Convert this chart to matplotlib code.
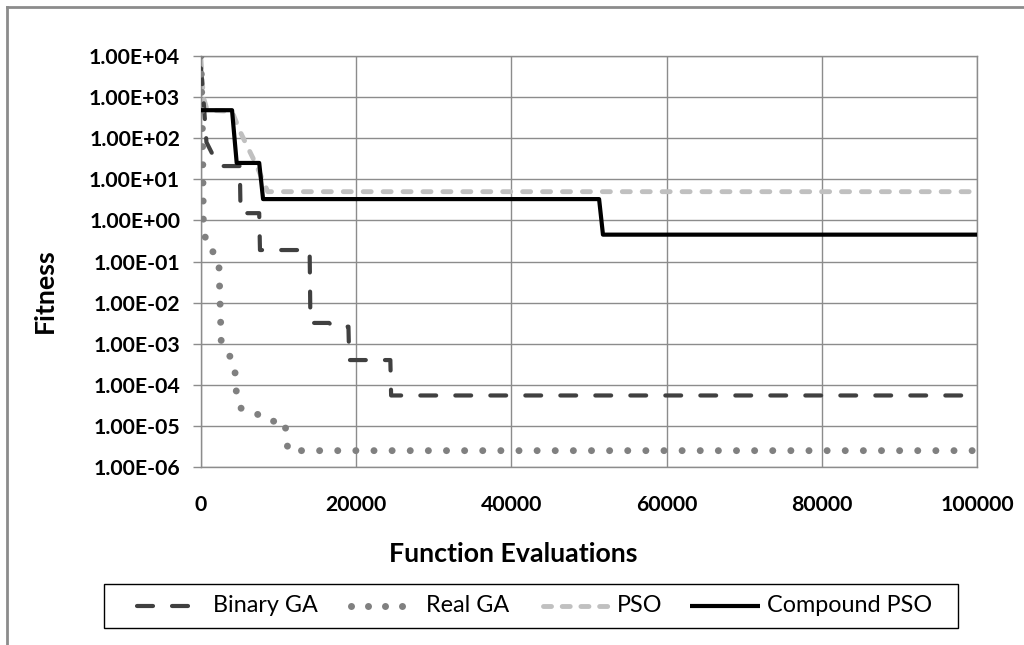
import matplotlib
matplotlib.use("Agg")
import matplotlib.pyplot as plt
from matplotlib.lines import Line2D
from matplotlib.patches import Rectangle

plt.rcParams['font.family'] = ['Lato', 'DejaVu Sans']

# ---- data ----
binary_x = [0, 300, 700, 1500, 2500, 3000, 5000, 5100, 6500, 7500, 7600, 14000, 14100,
            16500, 17000, 19000, 19100, 24400, 24500, 100000]
binary_y = [5000, 1000, 80, 40, 21, 21, 21, 1.5, 1.5, 1.5, 0.19, 0.19, 0.0032,
            0.0032, 0.0026, 0.0026, 0.0004, 0.0004, 5.5e-5, 5.5e-5]

real_x = [0, 200, 300, 700, 1800, 2300, 2600, 3400, 4300, 4600, 5200, 7000, 8500,
          10800, 11200, 100000]
real_y = [1e4, 100, 1, 0.22, 0.16, 0.1, 0.0012, 6e-4, 3.5e-4, 5e-5, 2.6e-5, 2.1e-5,
          1.3e-5, 1.3e-5, 2.5e-6, 2.5e-6]

pso_x = [0, 300, 800, 4000, 5000, 7000, 8600, 100000]
pso_y = [8000, 1000, 480, 450, 150, 25, 5, 5]

cpso_x = [0, 4000, 4600, 7500, 8000, 51300, 51800, 100000]
cpso_y = [480, 480, 25, 25, 3.3, 3.3, 0.45, 0.45]

series_names = ["Binary GA", "Real GA", "PSO", "Compound PSO"]
y_ticks = [1e4, 1e3, 1e2, 1e1, 1e0, 1e-1, 1e-2, 1e-3, 1e-4, 1e-5, 1e-6]
x_ticks = [0, 20000, 40000, 60000, 80000, 100000]

# ---- styles ----
W, H = 1024, 645
c_bin, c_real, c_pso, c_cpso = '#404040', '#808080', '#c0c0c0', '#000000'
grid_c = '#8c8c8c'

fig = plt.figure(figsize=(W / 100, H / 100), dpi=100)
ax = fig.add_axes([201 / W, 1 - 467 / H, (977 - 201) / W, (467 - 56) / H])


def fx(px):
    return px / W


def fy(py):
    return 1 - py / H


renderer = fig.canvas.get_renderer()


def fit_size(text, target_px, weight='normal', base=14, vertical=False):
    t = fig.text(0, 0, text, fontsize=base, fontweight=weight)
    bb = t.get_window_extent(renderer)
    t.remove()
    return base * target_px / bb.width


tick_fs = fit_size("1.00E+04", 92, weight='bold')
label_fs = fit_size("Fitness", 85, weight='bold')
leg_fs = fit_size("Compound PSO", 166)

ax.set_yscale('log')
ax.set_xlim(0, 100000)
ax.set_ylim(1e-6, 1e4)

ax.plot(binary_x, binary_y, color=c_bin, lw=3.0, dashes=(3.8, 4.6),
        dash_capstyle='round', zorder=3)
ax.plot(real_x, real_y, color=c_real, lw=5.0, dashes=(0.01, 2.6),
        dash_capstyle='round', zorder=3)
ax.plot(pso_x, pso_y, color=c_pso, lw=3.5, dashes=(1.65, 2.45),
        dash_capstyle='round', zorder=2)
ax.plot(cpso_x, cpso_y, color=c_cpso, lw=3.0, zorder=4)

ax.set_yticks(y_ticks)
ax.set_yticklabels([f"{v:.2E}" for v in y_ticks])
ax.minorticks_off()
ax.set_xticks(x_ticks)
ax.set_xticklabels([str(v) for v in x_ticks])

ax.grid(True, color=grid_c, lw=1.0)
ax.set_axisbelow(True)
for s in ax.spines.values():
    s.set_color(grid_c)
    s.set_linewidth(1.0)
ax.tick_params(axis='y', length=6, color=grid_c, width=1, labelsize=tick_fs, pad=9)
ax.tick_params(axis='x', length=0, labelsize=tick_fs, pad=20)
for lab in ax.get_xticklabels() + ax.get_yticklabels():
    lab.set_fontweight('bold')

# axis titles
fig.text(fx(389), fy(554), "Function Evaluations", fontsize=label_fs, fontweight='bold',
         ha='left', va='center')
fig.text(fx(45), fy(291), "Fitness", fontsize=label_fs, fontweight='bold',
         ha='center', va='center', rotation=90)

# ---- legend (Excel style, entries at fixed positions) ----
fig.add_artist(Rectangle((fx(104), fy(628)), fx(958) - fx(104), fy(584) - fy(628),
                         transform=fig.transFigure, fill=False, edgecolor='black', lw=1.0))
ly = fy(606)
for a, b in [(137, 153), (172, 188)]:
    fig.add_artist(Line2D([fx(a), fx(b)], [ly, ly], transform=fig.transFigure,
                          color=c_bin, lw=3.0, solid_capstyle='round'))
fig.add_artist(Line2D([fx(350.5), fx(368), fx(385), fx(402)], [ly] * 4,
                      transform=fig.transFigure, color=c_real, lw=0, marker='o',
                      markersize=5.0, markeredgewidth=0))
fig.add_artist(Line2D([fx(542.5), fx(610)], [ly, ly], transform=fig.transFigure,
                      color=c_pso, lw=3.5, dashes=(1.65, 2.2), dash_capstyle='round'))
fig.add_artist(Line2D([fx(690), fx(760)], [ly, ly], transform=fig.transFigure,
                      color=c_cpso, lw=3.0, solid_capstyle='butt'))
for name, xpx in zip(series_names, [213, 426, 617, 767]):
    fig.text(fx(xpx), fy(605), name, fontsize=leg_fs, ha='left', va='center')

# outer chart border (left and top only, as cropped in reference)
fig.add_artist(Line2D([fx(7), fx(7)], [0, fy(7)], transform=fig.transFigure,
                      color=grid_c, lw=2))
fig.add_artist(Line2D([fx(7), 1], [fy(7), fy(7)], transform=fig.transFigure,
                      color=grid_c, lw=2))

fig.savefig("out.png", dpi=100)
